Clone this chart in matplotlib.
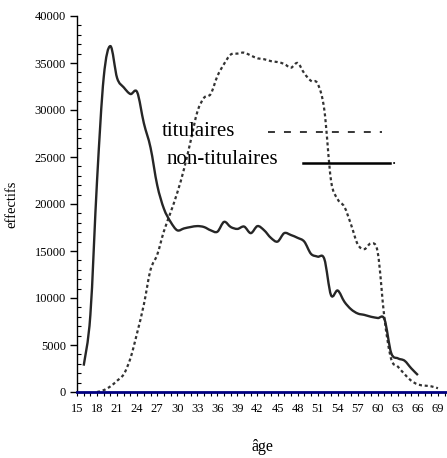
import matplotlib
matplotlib.use("Agg")
import matplotlib.pyplot as plt
from matplotlib.ticker import MultipleLocator
from matplotlib.path import Path
from matplotlib.patches import PathPatch
from matplotlib.lines import Line2D

plt.rcParams['font.family'] = ['Liberation Serif', 'DejaVu Serif']
plt.rcParams['lines.scale_dashes'] = False

# ---- data ----
tit_ages = list(range(18, 70))
titulaires = [0, 200, 600, 1200, 1900, 3600, 6300, 9300, 13000, 14600,
              17100, 19100, 21200, 23700, 26700, 29800, 31300, 31700, 33600, 34900,
              35900, 36000, 36100, 35800, 35500, 35400, 35200, 35100, 34900, 34500,
              35000, 33900, 33100, 32800, 30000, 22500, 20500, 19700, 17800, 15700,
              15200, 15800, 14800, 7800, 3500, 2700, 1900, 1200, 800, 680,
              600, 400]
nt_ages = list(range(16, 67))
non_titulaires = [2800, 8200, 22500, 33500, 36800, 33400, 32400, 31700, 31900, 28600,
                  26000, 22000, 19500, 18100, 17200, 17400, 17550, 17650, 17550, 17200,
                  17050, 18100, 17550, 17350, 17600, 16900, 17650, 17200, 16400, 16000,
                  16900, 16700, 16400, 16000, 14700, 14400, 14150, 10300, 10800, 9600,
                  8800, 8350, 8200, 8000, 7870, 7730, 4150, 3580, 3330, 2520,
                  1800]
xtick_labels = list(range(15, 70, 3))
series_labels = ["titulaires", "non-titulaires"]


def smooth_path(xs, ys):
    """Smoothed line (like a spreadsheet 'smoothed line') as a Bezier path."""
    n = len(xs)
    verts = [(xs[0], ys[0])]
    codes = [Path.MOVETO]
    for i in range(n - 1):
        x0, y0 = (xs[i - 1], ys[i - 1]) if i > 0 else (xs[i], ys[i])
        x1, y1 = xs[i], ys[i]
        x2, y2 = xs[i + 1], ys[i + 1]
        x3, y3 = (xs[i + 2], ys[i + 2]) if i + 2 < n else (x2, y2)
        c1 = (x1 + (x2 - x0) / 6.0, y1 + (y2 - y0) / 6.0)
        c2 = (x2 - (x3 - x1) / 6.0, y2 - (y3 - y1) / 6.0)
        verts += [c1, c2, (x2, y2)]
        codes += [Path.CURVE4] * 3
    return Path(verts, codes)


W, H = 447, 458
fig = plt.figure(figsize=(W / 100, H / 100), dpi=100)
ax = fig.add_axes([77 / W, 1 - 392 / H, (W - 77) / W, (392 - 16) / H])

p1 = PathPatch(smooth_path(tit_ages, titulaires), facecolor='none',
               edgecolor='#333333', lw=1.6, transform=ax.transData)
p1.set_linestyle((0, (2.2, 2.0)))
ax.add_patch(p1)
p2 = PathPatch(smooth_path(nt_ages, non_titulaires), facecolor='none',
               edgecolor='#262626', lw=1.7, transform=ax.transData, joinstyle='round')
ax.add_patch(p2)

ax.set_xlim(15, 70.35)
ax.set_ylim(0, 40000)
ax.set_xticks(xtick_labels)
ax.set_xticklabels([str(v) for v in xtick_labels])
ax.xaxis.set_minor_locator(MultipleLocator(1))
ax.yaxis.set_major_locator(MultipleLocator(5000))
ax.yaxis.set_minor_locator(MultipleLocator(1000))

for s in ['top', 'right']:
    ax.spines[s].set_visible(False)
ax.spines['left'].set_linewidth(1.0)
ax.spines['bottom'].set_color('#000080')
ax.spines['bottom'].set_linewidth(2.0)
ax.spines['bottom'].set_zorder(5)

ax.tick_params(axis='y', which='major', direction='out', length=5, width=1, labelsize=9, pad=3)
ax.tick_params(axis='y', which='minor', direction='in', length=3, width=0.8)
ax.tick_params(axis='x', which='both', direction='out', length=3, width=0.8, color='black', labelsize=9, pad=5)

# in-chart legend (text boxes)
fig.text(162 / W, 1 - 131 / H, series_labels[0], fontsize=15, va='center', ha='left')
fig.text(167 / W, 1 - 160 / H, series_labels[1], fontsize=15, va='center', ha='left')
leg1 = Line2D([268 / W, 382 / W], [1 - 132 / H, 1 - 132 / H], color='black', lw=1.1,
              transform=fig.transFigure)
leg1.set_dashes((5, 6.5))
fig.add_artist(leg1)
leg2 = Line2D([303 / W, 390 / W], [1 - 162.5 / H, 1 - 162.5 / H], color='black', lw=1.8,
              transform=fig.transFigure)
fig.add_artist(leg2)
fig.text(392 / W, 1 - 160 / H, ".", fontsize=12, va='center', ha='left')

fig.text(12 / W, 1 - 204 / H, "effectifs", rotation=90, fontsize=10.5, va='center', ha='center')
fig.text(262 / W, 1 - 447 / H, "âge", fontsize=11.5, va='center', ha='center')

fig.savefig("out.png", dpi=100)
